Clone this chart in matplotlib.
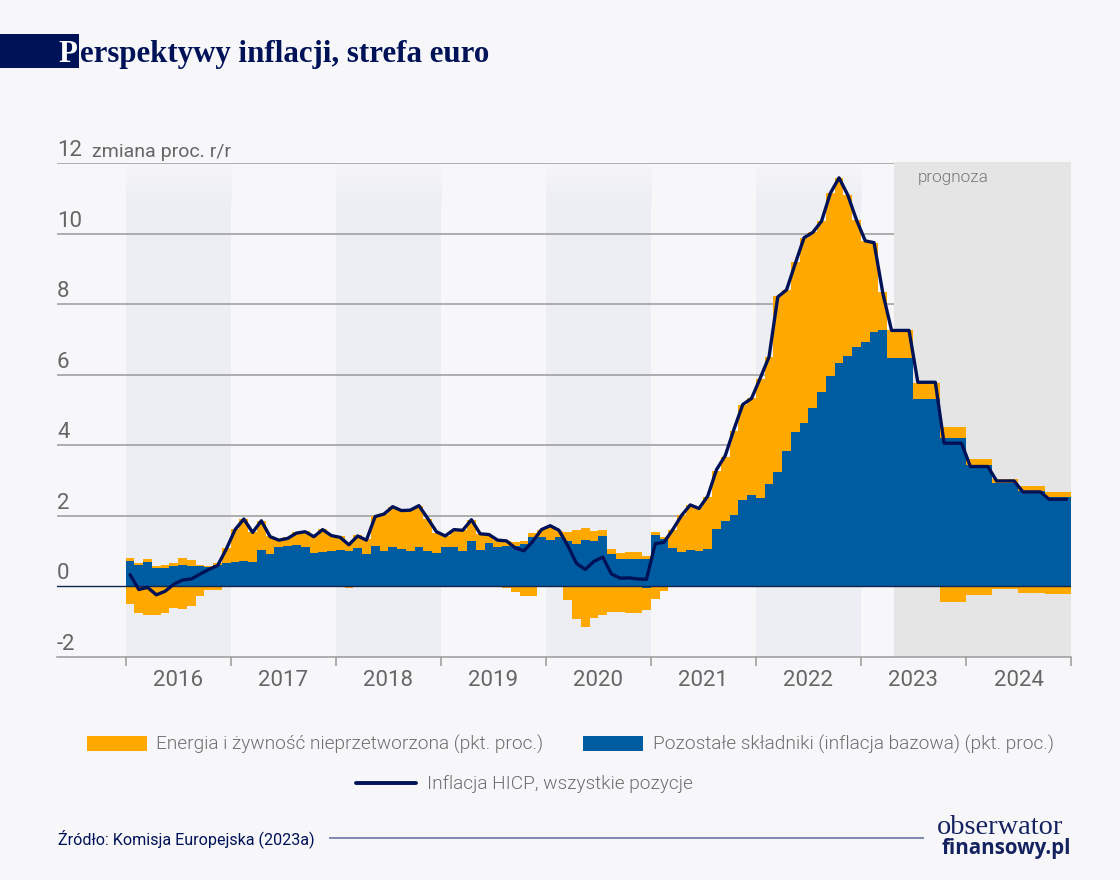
import numpy as np
import matplotlib
matplotlib.use("Agg")
import matplotlib.pyplot as plt
from matplotlib.patches import Rectangle

BG = "#F7F7FA"
NAVY = "#001257"
ORANGE = "#FFA800"
BLUE = "#005CA0"
GREY_TXT = "#666666"

years = [2016, 2017, 2018, 2019, 2020, 2021, 2022, 2023, 2024]

# monthly, jan 2016 - dec 2024 (forecast is quarterly, so repeated three times)
hicp = [0.32, -0.10, -0.04, -0.25, -0.15, 0.05, 0.17, 0.20, 0.34, 0.47, 0.58, 1.05,
        1.60, 1.90, 1.52, 1.85, 1.40, 1.30, 1.35, 1.50, 1.54, 1.40, 1.60, 1.43,
        1.38, 1.17, 1.42, 1.30, 1.97, 2.04, 2.25, 2.14, 2.15, 2.28, 1.92, 1.54,
        1.42, 1.60, 1.58, 1.88, 1.48, 1.46, 1.30, 1.28, 1.08, 1.00, 1.26, 1.60,
        1.71, 1.58, 1.15, 0.64, 0.47, 0.70, 0.82, 0.34, 0.22, 0.23, 0.20, 0.19,
        1.20, 1.24, 1.60, 2.00, 2.30, 2.20, 2.55, 3.30, 3.70, 4.45, 5.15, 5.32,
        5.90, 6.50, 8.20, 8.40, 9.15, 9.88, 10.03, 10.35, 11.14, 11.58, 11.09, 10.38,
        9.79, 9.74, 8.31, 7.25, 7.25, 7.25, 5.78, 5.78, 5.78, 4.05, 4.05, 4.05,
        3.39, 3.39, 3.39, 2.98, 2.98, 2.98, 2.67, 2.67, 2.67, 2.46, 2.46, 2.46]

core = [0.70, 0.60, 0.67, 0.50, 0.52, 0.56, 0.60, 0.56, 0.56, 0.54, 0.60, 0.64,
        0.69, 0.72, 0.67, 1.02, 0.91, 1.12, 1.13, 1.15, 1.12, 0.95, 0.97, 0.98,
        1.03, 1.00, 1.09, 0.90, 1.14, 0.98, 1.11, 1.04, 0.99, 1.12, 0.98, 0.95,
        1.10, 1.10, 0.98, 1.28, 1.03, 1.22, 1.10, 1.14, 1.14, 1.19, 1.38, 1.38,
        1.31, 1.38, 1.29, 1.19, 1.30, 1.28, 1.41, 0.92, 0.77, 0.77, 0.77, 0.76,
        1.46, 1.34, 1.08, 0.97, 1.02, 1.00, 1.06, 1.63, 1.84, 2.02, 2.44, 2.59,
        2.50, 2.89, 3.23, 3.83, 4.36, 4.62, 5.05, 5.49, 5.96, 6.34, 6.53, 6.78,
        6.92, 7.20, 7.26, 6.46, 6.46, 6.46, 5.30, 5.30, 5.30, 4.19, 4.19, 4.19,
        3.43, 3.43, 3.43, 2.91, 2.91, 2.91, 2.70, 2.70, 2.70, 2.52, 2.52, 2.52]

# top of the orange part, it sits on core
energy_top = [0.80, 0.65, 0.78, 0.57, 0.60, 0.66, 0.80, 0.75, 0.60, 0.56, 0.66, 1.07,
              1.62, 1.90, 1.54, 1.85, 1.43, 1.33, 1.38, 1.52, 1.55, 1.41, 1.62, 1.45,
              1.41, 1.21, 1.44, 1.33, 1.99, 2.04, 2.25, 2.16, 2.15, 2.28, 1.90, 1.51,
              1.42, 1.60, 1.58, 1.87, 1.48, 1.46, 1.31, 1.28, 1.24, 1.29, 1.50, 1.60,
              1.71, 1.57, 1.54, 1.59, 1.64, 1.57, 1.58, 1.06, 0.95, 0.96, 0.96, 0.85,
              1.54, 1.38, 1.59, 2.02, 2.30, 2.23, 2.53, 3.25, 3.67, 4.39, 5.14, 5.32,
              5.88, 6.50, 8.22, 8.40, 9.20, 9.88, 10.03, 10.35, 11.14, 11.58, 11.09, 10.38,
              9.79, 9.74, 8.35, 7.25, 7.25, 7.25, 5.75, 5.75, 5.75, 4.52, 4.52, 4.52,
              3.61, 3.61, 3.61, 3.04, 3.04, 3.04, 2.85, 2.85, 2.85, 2.68, 2.68, 2.68]

energy_neg = [-0.52, -0.78, -0.83, -0.83, -0.78, -0.63, -0.66, -0.57, -0.29, -0.10, -0.11, -0.02,
              0, 0, 0, 0, 0, 0, 0, 0, 0, 0, 0, 0,
              0, -0.05, 0, 0, 0, 0, 0, 0, 0, 0, 0, 0,
              0, 0, 0, 0, 0, 0, 0, -0.07, -0.18, -0.29, -0.28, 0,
              0, 0, -0.40, -0.95, -1.17, -0.90, -0.81, -0.74, -0.75, -0.76, -0.78, -0.68,
              -0.37, -0.13, 0, -0.03, -0.03, -0.03, -0.03, 0, 0, 0, 0, 0,
              0, 0, 0, 0, 0, 0, 0, 0, 0, 0, 0, 0,
              0, 0, 0, 0, 0, 0, -0.03, -0.03, -0.03, -0.46, -0.46, -0.46,
              -0.26, -0.26, -0.26, -0.09, -0.09, -0.09, -0.19, -0.19, -0.19, -0.22, -0.22, -0.22]

core_neg = [0.0] * 108
core_neg[59] = -0.05

y_ticks = [-2, 0, 2, 4, 6, 8, 10, 12]
forecast_start = 2023.314
shaded_years = [2016, 2018, 2020, 2022]

plt.rcParams["font.family"] = ["Roboto", "DejaVu Sans"]

fig = plt.figure(figsize=(11.2, 8.8), dpi=100, facecolor=BG)
ax = fig.add_axes([57 / 1120, (880 - 656.5) / 880, (1071 - 57) / 1120, 493.5 / 880])
ax.set_facecolor(BG)

x_left = 2016 - 68.7 / 105.05
ax_xlim = (x_left, 2025)
ax_ylim = (-2, 12)

# shaded years fade out towards the top of the chart
fade = np.ones((64, 1, 4))
fade[:, :, :3] = matplotlib.colors.to_rgb("#EDEEF4")
fade[:, 0, 3] = np.linspace(0.12, 1, 64)
for y in shaded_years:
    ax.imshow(fade, extent=(y, y + 1, 10.9, 12), aspect="auto", zorder=0, origin="upper",
              interpolation="nearest")
    ax.add_patch(Rectangle((y, -2), 1, 12.9, fc="#EDEEF4", ec="none", zorder=0))

for v in y_ticks:
    if v not in (0, -2):
        ax.axhline(v, color="#9A9A9A", lw=1.1, zorder=1)
    ax.text(x_left, v + 0.05, str(v), fontsize=16, color=GREY_TXT, ha="left", va="bottom", zorder=6)

ax.add_patch(Rectangle((forecast_start, -2), 2025 - forecast_start, 14.03, fc="#E5E5E5", ec="none",
                       zorder=2, clip_on=False))

edges = 2016 + np.arange(len(core) + 1) / 12
mid = 2016 + (np.arange(len(core)) + 0.5) / 12

ax.stairs(core, edges, baseline=0, fill=True, color=BLUE, lw=0, zorder=3)
ax.stairs(energy_top, edges, baseline=core, fill=True, color=ORANGE, lw=0, zorder=3)
ax.stairs(energy_neg, edges, baseline=0, fill=True, color=ORANGE, lw=0, zorder=3)
ax.stairs(core_neg, edges, baseline=0, fill=True, color=BLUE, lw=0, zorder=3)
ax.axhline(0, color="#10264F", lw=1.0, zorder=4)
ax.plot(mid, hicp, color=NAVY, lw=2.4, solid_joinstyle="round", solid_capstyle="round", zorder=5)

ax.text(x_left + 35 / 105.05, 12.05, "zmiana proc. r/r", fontsize=14, color=GREY_TXT, ha="left",
        va="bottom")
ax.text(2023.545, 11.58, "prognoza", fontsize=12.3, color="#777777", ha="left", va="center",
        fontweight=300, zorder=6)

ax.set_xlim(*ax_xlim)
ax.set_ylim(*ax_ylim)
ax.set_xticks(list(years) + [2025])
ax.set_xticklabels([])
ax.set_xticks([y + 0.5 for y in years], [str(y) for y in years], minor=True)
ax.tick_params(axis="x", which="major", length=6.5, width=1.1, color="#9A9A9A")
ax.tick_params(axis="x", which="minor", length=0, pad=10, labelsize=16, labelcolor=GREY_TXT)
ax.set_yticks([])
for s in ["top", "left", "right"]:
    ax.spines[s].set_visible(False)
ax.spines["bottom"].set_color("#9A9A9A")
ax.spines["bottom"].set_linewidth(1.1)

# everything around the chart, placed in picture pixels
ov = fig.add_axes([0, 0, 1, 1], facecolor="none")
ov.set_xlim(0, 1120)
ov.set_ylim(880, 0)
ov.axis("off")

ov.add_patch(Rectangle((0, 34), 78.5, 34, fc=NAVY, ec="none"))
title_font = dict(family="Liberation Serif", fontweight="bold", fontsize=22.25, va="baseline")
ov.text(58.5, 62, "P", color="white", **title_font)
ov.text(79.5, 62, "erspektywy inflacji, strefa euro", color=NAVY, **title_font)

legend_font = dict(fontsize=13.7, color="#6E6E6E", va="center", fontweight=300)
ov.add_patch(Rectangle((87, 736), 60, 15, fc=ORANGE, ec="none"))
ov.text(156, 744.5, "Energia i żywność nieprzetworzona (pkt. proc.)", **legend_font)
ov.add_patch(Rectangle((583, 736), 60, 15, fc=BLUE, ec="none"))
ov.text(653, 744.5, "Pozostałe składniki (inflacja bazowa) (pkt. proc.)", **legend_font)
ov.plot([356, 416], [783.5, 783.5], color=NAVY, lw=2.8, solid_capstyle="round")
ov.text(427, 784, "Inflacja HICP, wszystkie pozycje", **legend_font)

ov.text(58, 839, "Źródło: Komisja Europejska (2023a)", fontsize=11.6, color=NAVY, va="center")
ov.plot([330, 923], [838, 838], color="#7E88B0", lw=1.4)
ov.text(937, 834.5, "obserwator", family="Liberation Serif", fontsize=20.4, color="#14225F", va="baseline")
ov.text(1071, 854, "finansowy.pl", family="Open Sans", fontweight="bold", fontsize=14.8, color="#14225F",
        va="baseline", ha="right")

fig.savefig("out.png", dpi=100, facecolor=BG)
